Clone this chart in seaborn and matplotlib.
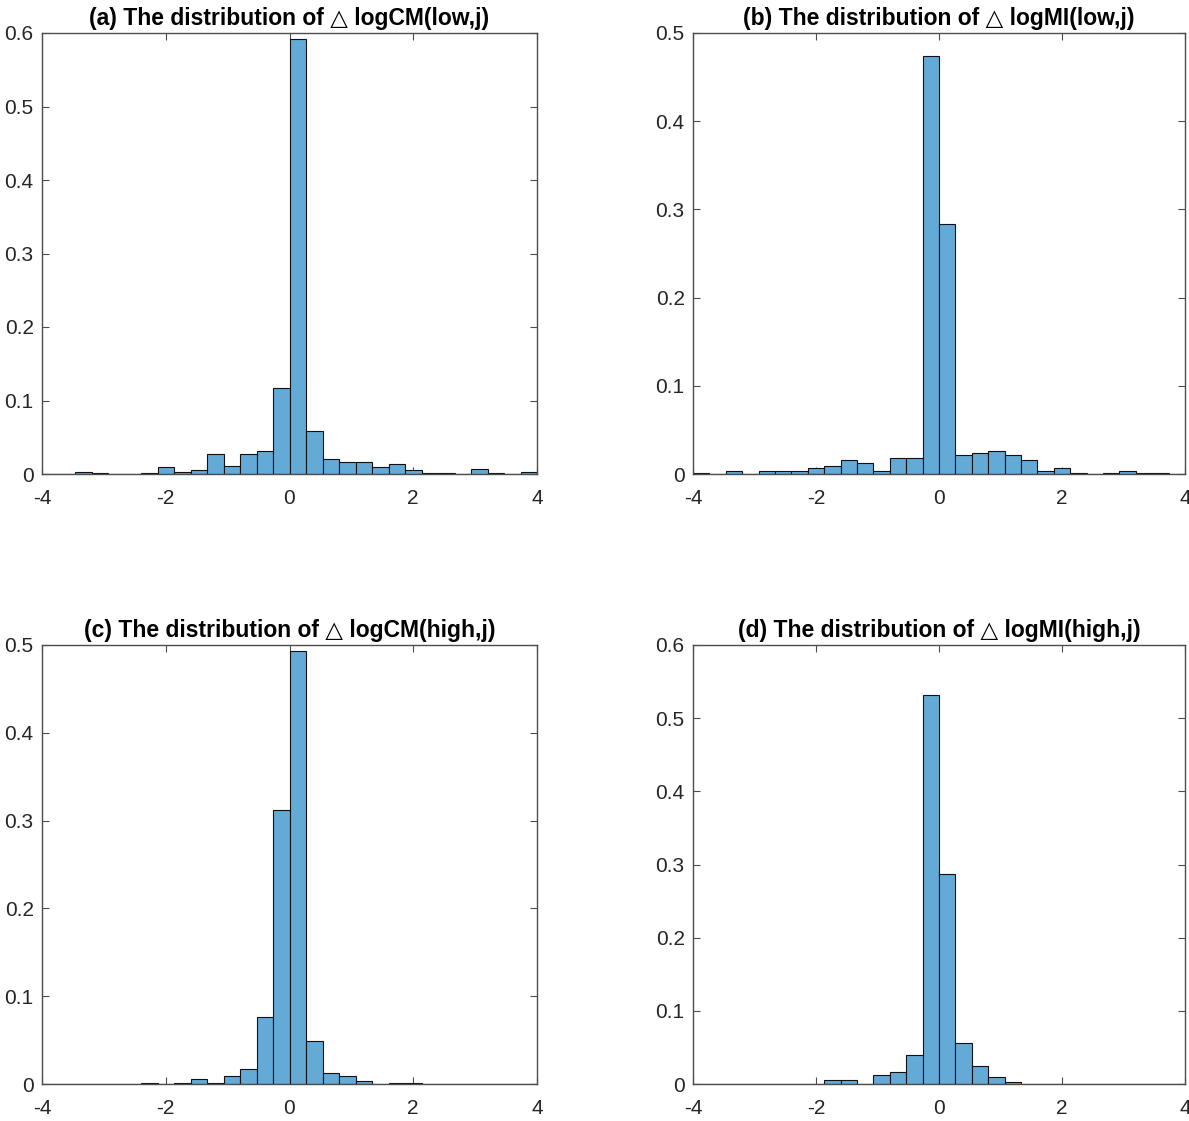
import numpy as np
import pandas as pd
import matplotlib
matplotlib.use("Agg")
import matplotlib.pyplot as plt
import seaborn as sns

# bin edges: 30 equal bins between -4 and 4
bin_edges = np.linspace(-4, 4, 31)
bin_centers = (bin_edges[:-1] + bin_edges[1:]) / 2

# relative frequencies, one value per bin
cm_low = [0.0005, 0.0005, 0.0023, 0.002, 0.0005, 0.0, 0.002, 0.0096, 0.003, 0.0055,
          0.027, 0.011, 0.027, 0.031, 0.117, 0.592, 0.059, 0.021, 0.017, 0.017,
          0.0096, 0.013, 0.006, 0.002, 0.002, 0.0005, 0.0073, 0.002, 0.0005, 0.003]
mi_low = [0.0015, 0.0, 0.0038, 0.0, 0.0038, 0.0038, 0.0038, 0.0068, 0.0095, 0.0155,
          0.013, 0.0038, 0.0185, 0.0185, 0.474, 0.284, 0.021, 0.024, 0.026, 0.021,
          0.0155, 0.0038, 0.007, 0.0015, 0.0, 0.0015, 0.0038, 0.0015, 0.0015, 0.0]
cm_high = [0.0, 0.0, 0.0, 0.0, 0.0, 0.0, 0.001, 0.0, 0.001, 0.0057,
           0.001, 0.009, 0.017, 0.076, 0.312, 0.493, 0.049, 0.0128, 0.009, 0.0038,
           0.0, 0.001, 0.001, 0.0, 0.0, 0.0, 0.0, 0.0, 0.0, 0.0]
mi_high = [0.0, 0.0, 0.0, 0.0, 0.0, 0.0, 0.0, 0.0, 0.0054, 0.0054,
           0.0, 0.012, 0.0167, 0.040, 0.532, 0.287, 0.056, 0.025, 0.0095, 0.003,
           0.0, 0.0, 0.0, 0.0, 0.0, 0.0, 0.0, 0.0, 0.0, 0.0]

titles = ["(a) The distribution of \u25b3 logCM(low,j)",
          "(b) The distribution of \u25b3 logMI(low,j)",
          "(c) The distribution of \u25b3 logCM(high,j)",
          "(d) The distribution of \u25b3 logMI(high,j)"]
y_max = [0.6, 0.5, 0.5, 0.6]
x_ticks = [-4, -2, 0, 2, 4]

sns.set_theme(style="white")
plt.rcParams['font.family'] = ['Liberation Sans', 'DejaVu Sans']

W, H = 1189, 1121
fig = plt.figure(figsize=(W / 100, H / 100), dpi=100)

# axes boxes in pixels: left, right, top, bottom
boxes = [(42, 537, 33, 474), (693, 1185, 33, 474),
         (42, 537, 645, 1084), (693, 1185, 645, 1084)]

bar_color = '#64aad7'
axis_color = '#4d4d4d'
text_color = '#262626'

for heights, title, ymax, (l, r, t, b) in zip([cm_low, mi_low, cm_high, mi_high],
                                             titles, y_max, boxes):
    ax = fig.add_axes([l / W, 1 - b / H, (r - l) / W, (b - t) / H])
    df = pd.DataFrame({'x': bin_centers, 'freq': heights})
    sns.histplot(data=df, x='x', weights='freq', bins=list(bin_edges), stat='count',
                 color=bar_color, alpha=1, edgecolor='#111111', linewidth=0.8, ax=ax)
    ax.set_xlim(-4, 4)
    ax.set_ylim(0, ymax)
    ax.set_xticks(x_ticks)
    ax.set_xticklabels([str(v) for v in x_ticks])
    yt = np.round(np.arange(0, ymax + 1e-9, 0.1), 1)
    ax.set_yticks(yt)
    ax.set_yticklabels(['0'] + [f'{v:g}' for v in yt[1:]])
    ax.set_xlabel('')
    ax.set_ylabel('')
    ax.tick_params(direction='in', length=5, width=0.8, color=axis_color,
                   labelcolor=text_color, labelsize=15,
                   top=True, right=True, bottom=True, left=True)
    ax.tick_params(axis='x', pad=11)
    ax.tick_params(axis='y', pad=6)
    for sp in ax.spines.values():
        sp.set_visible(True)
        sp.set_color(axis_color)
        sp.set_linewidth(1.0)
    ax.grid(False)
    ax.set_title(title, fontsize=16.5, fontweight='bold', color='black', pad=6)

fig.savefig('out.png', dpi=100)
